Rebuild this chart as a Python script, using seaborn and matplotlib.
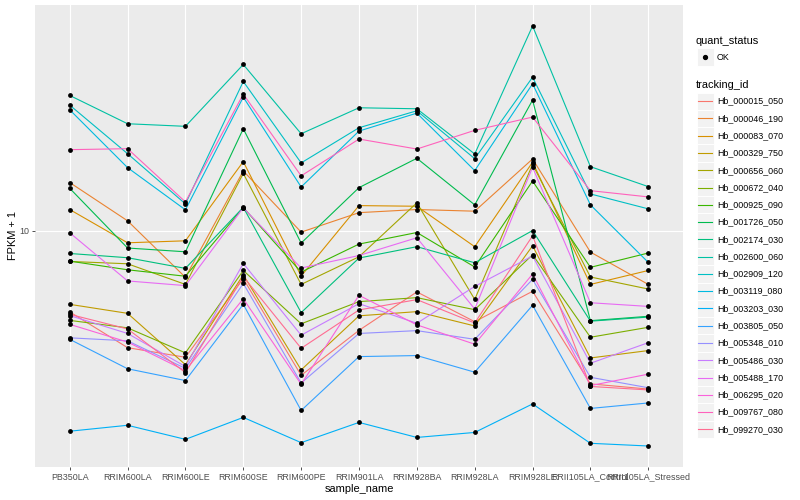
import matplotlib
matplotlib.use("Agg")
import matplotlib.pyplot as plt
from matplotlib.patches import Rectangle
from matplotlib.lines import Line2D
from matplotlib.ticker import NullLocator
import numpy as np
import pandas as pd
import seaborn as sns

# samples on the x axis, in plot order
sample_names = ["PB350LA", "RRIM600LA", "RRIM600LE", "RRIM600SE", "RRIM600PE",
                "RRIM901LA", "RRIM928BA", "RRIM928LA", "RRIM928LE",
                "RRII105LA_Control", "RRII105LA_Stressed"]

tracking_ids = ["Hb_000015_050", "Hb_000046_190", "Hb_000083_070", "Hb_000329_750",
                "Hb_000656_060", "Hb_000672_040", "Hb_000925_090", "Hb_001726_050",
                "Hb_002174_030", "Hb_002600_060", "Hb_002909_120", "Hb_003119_080",
                "Hb_003203_030", "Hb_003805_050", "Hb_005348_010", "Hb_005486_030",
                "Hb_005488_170", "Hb_006295_020", "Hb_009767_080", "Hb_099270_030"]

# FPKM + 1 per gene, one value per sample
hb_000015_050 = [5.36, 4.07, 3.78, 6.92, 3.29, 4.65, 6.25, 4.97, 6.28, 3.08, 2.96]
hb_000046_190 = [14.5, 10.8, 6.99, 15.85, 9.9, 11.5, 11.78, 11.63, 17.38, 8.49, 6.62]
hb_000083_070 = [11.78, 9.12, 9.26, 17.03, 7.06, 12.14, 12.08, 8.85, 16.95, 6.62, 7.37]
hb_000329_750 = [5.68, 5.30, 3.57, 7.13, 3.43, 5.20, 5.37, 4.81, 8.91, 3.76, 3.98]
hb_000656_060 = [7.90, 7.76, 6.62, 15.55, 6.62, 8.19, 12.40, 5.90, 16.66, 7.01, 6.39]
hb_000672_040 = [5.02, 4.74, 3.91, 7.37, 4.89, 5.80, 5.98, 5.45, 8.32, 4.41, 4.76]
hb_000925_090 = [7.92, 7.41, 7.05, 11.96, 7.28, 9.03, 9.87, 7.57, 14.67, 7.55, 8.43]
hb_001726_050 = [13.87, 8.76, 8.51, 21.93, 9.10, 13.94, 17.47, 12.21, 27.33, 5.01, 5.18]
hb_002174_030 = [8.40, 8.13, 7.49, 11.98, 5.33, 8.11, 8.85, 7.82, 10.02, 4.99, 5.15]
hb_002600_060 = [28.33, 22.79, 22.34, 35.95, 21.10, 25.77, 25.57, 18.06, 48.34, 16.38, 14.05]
hb_002909_120 = [26.30, 18.10, 12.30, 31.55, 16.86, 22.10, 25.18, 17.42, 32.60, 13.28, 11.84]
hb_003119_080 = [25.37, 16.26, 11.75, 27.97, 14.01, 21.54, 24.73, 15.89, 30.98, 12.21, 7.84]
hb_003203_030 = [2.14, 2.24, 2.01, 2.38, 1.96, 2.29, 2.04, 2.12, 2.64, 1.95, 1.91]
hb_003805_050 = [4.34, 3.46, 3.16, 5.68, 2.51, 3.80, 3.83, 3.37, 5.64, 2.55, 2.66]
hb_005348_010 = [4.39, 4.29, 3.47, 6.67, 3.10, 4.54, 4.64, 4.34, 6.88, 3.24, 2.99]
hb_005486_030 = [5.21, 4.54, 3.52, 7.78, 4.48, 5.71, 4.91, 6.52, 8.24, 3.61, 4.23]
hb_005488_170 = [9.85, 6.80, 6.56, 11.94, 7.51, 8.27, 9.48, 5.48, 16.30, 5.75, 5.59]
hb_006295_020 = [4.87, 4.25, 3.41, 5.93, 3.07, 6.09, 4.85, 4.18, 7.17, 3.04, 3.32]
hb_009767_080 = [18.67, 18.81, 12.49, 28.62, 15.26, 20.26, 18.76, 21.66, 23.99, 13.62, 12.98]
hb_099270_030 = [5.26, 4.70, 3.36, 7.03, 4.05, 5.44, 5.89, 4.92, 9.62, 3.02, 2.94]

series = [hb_000015_050, hb_000046_190, hb_000083_070, hb_000329_750, hb_000656_060,
          hb_000672_040, hb_000925_090, hb_001726_050, hb_002174_030, hb_002600_060,
          hb_002909_120, hb_003119_080, hb_003203_030, hb_003805_050, hb_005348_010,
          hb_005486_030, hb_005488_170, hb_006295_020, hb_009767_080, hb_099270_030]

# ggplot2 default hue palette for 20 levels
hue_colors = ["#F8766D", "#EA8331", "#D89000", "#C09B00", "#A3A500", "#7CAE00",
              "#39B600", "#00BB4E", "#00BF7D", "#00C1A3", "#00BFC4", "#00BAE0",
              "#00B0F6", "#35A2FF", "#9590FF", "#C77CFF", "#E76BF3", "#FA62DB",
              "#FF62BC", "#FF6C91"]
palette = dict(zip(tracking_ids, hue_colors))

rows = []
for tid, vals in zip(tracking_ids, series):
    for s, v in zip(sample_names, vals):
        rows.append({"tracking_id": tid, "sample_name": s, "fpkm": v})
df = pd.DataFrame(rows)
df["pos"] = pd.Categorical(df["sample_name"], categories=sample_names).codes

plt.rcParams["font.family"] = ["Liberation Sans", "DejaVu Sans"]

W, H = 800, 500
fig = plt.figure(figsize=(8, 5), dpi=100)
ax = fig.add_axes([35 / W, 1 - 467 / H, (683 - 35) / W, (467 - 5) / H])

sns.lineplot(data=df, x="pos", y="fpkm", hue="tracking_id", hue_order=tracking_ids,
             palette=palette, estimator=None, sort=False, legend=False,
             linewidth=0.8, ax=ax)
sns.scatterplot(data=df, x="pos", y="fpkm", color="black", s=12, linewidth=0,
                legend=False, ax=ax, zorder=3)

ax.set_yscale("log")
lo, hi = np.log10(df["fpkm"].min()), np.log10(df["fpkm"].max())
pad = 0.05 * (hi - lo)
ax.set_ylim(10 ** (lo - pad), 10 ** (hi + pad))
ax.set_xlim(-0.6, len(sample_names) - 0.4)

ax.set_yticks([10])
ax.set_yticklabels(["10"])
ax.yaxis.set_minor_locator(NullLocator())
ax.set_xticks(range(len(sample_names)))
ax.set_xticklabels(sample_names)

ax.set_facecolor("#EBEBEB")
ax.grid(True, color="white", linewidth=0.8)
ax.set_axisbelow(True)
for sp in ax.spines.values():
    sp.set_visible(False)
ax.tick_params(length=2.2, width=0.6, color="#333333", labelcolor="#4D4D4D",
               labelsize=6.4, pad=1.8)
ax.set_xlabel("sample_name", fontsize=7.9, labelpad=2)
ax.set_ylabel("FPKM + 1", fontsize=7.9, labelpad=1)


def fx(x):
    return x / W


def fy(y):
    return 1 - y / H


# legend: quant_status
fig.text(fx(696), fy(40.7), "quant_status", fontsize=7.9, va="center", ha="left")
key = 17.3
fig.add_artist(Rectangle((fx(696.5), fy(48.5 + key)), key / W, key / H,
                         transform=fig.transFigure, facecolor="#F2F2F2",
                         edgecolor="white", linewidth=0.7))
fig.add_artist(Line2D([fx(696.5 + key / 2)], [fy(57.2)], marker="o", markersize=2.8,
                      color="black", linestyle="none", transform=fig.transFigure))
fig.text(fx(717), fy(57.2), "OK", fontsize=6.4, va="center", ha="left")

# legend: tracking_id
fig.text(fx(696), fy(84.5), "tracking_id", fontsize=7.9, va="center", ha="left")
for i, tid in enumerate(tracking_ids):
    yc = 101.2 + i * 17.27
    fig.add_artist(Rectangle((fx(696.5), fy(yc + key / 2)), key / W, key / H,
                             transform=fig.transFigure, facecolor="#F2F2F2",
                             edgecolor="white", linewidth=0.7))
    fig.add_artist(Line2D([fx(698.3), fx(712)], [fy(yc), fy(yc)],
                          color=palette[tid], linewidth=0.8,
                          transform=fig.transFigure))
    fig.text(fx(717), fy(yc), tid, fontsize=6.4, va="center", ha="left")

fig.savefig("out.png", dpi=100)
